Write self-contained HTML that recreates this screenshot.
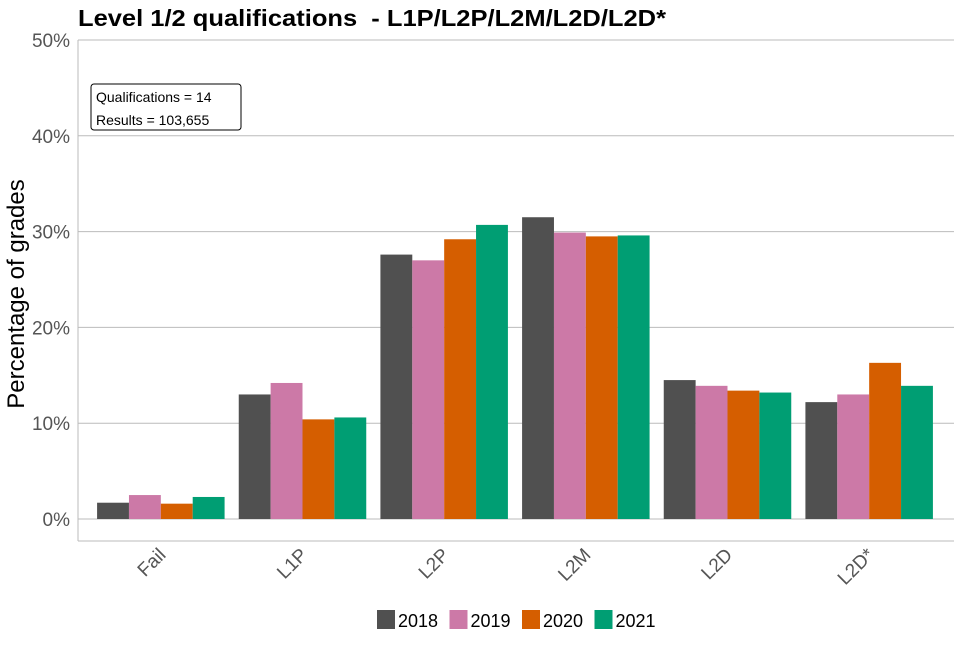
<!DOCTYPE html>
<html><head><meta charset="utf-8"><style>
body{margin:0;background:#fff;font-family:"Liberation Sans",sans-serif}
</style></head><body>
<svg id="c" width="960" height="640" xmlns="http://www.w3.org/2000/svg" font-family="Liberation Sans, sans-serif">
<text x="78" y="26" font-size="23" font-weight="bold" textLength="588" lengthAdjust="spacingAndGlyphs">Level 1/2 qualifications &#160;- L1P/L2P/L2M/L2D/L2D*</text>
<text transform="translate(24,294) rotate(-90)" text-anchor="middle" font-size="24">Percentage of grades</text>
<g id="grid"></g><g id="bars"></g><g id="xl"></g>
<line x1="78" y1="40" x2="78" y2="541" stroke="#bbb"/>
<line x1="78" y1="541" x2="954" y2="541" stroke="#bbb"/>
<g>
<rect x="91" y="84" width="150" height="46" rx="3" fill="#fff" stroke="#000"/>
<text x="96" y="102" font-size="14">Qualifications = 14</text>
<text x="96" y="125" font-size="14">Results = 103,655</text>
</g>
<g id="legend"></g>
</svg>
<script>
const categories=["Fail","L1P","L2P","L2M","L2D","L2D*"];
const years=["2018","2019","2020","2021"];
const s2018=[1.7,13.0,27.6,31.5,14.5,12.2];
const s2019=[2.5,14.2,27.0,29.9,13.9,13.0];
const s2020=[1.6,10.4,29.2,29.5,13.4,16.3];
const s2021=[2.3,10.6,30.7,29.6,13.2,13.9];
const yTicks=[0,10,20,30,40,50];
const colors=["#505050","#cc79a7","#d55e00","#009e73"];
const series=[s2018,s2019,s2020,s2021];
const NS="http://www.w3.org/2000/svg";
const gx0=78,gx1=954,x0=90,x1=940,y0=519,yTop=40;
const y=v=>y0-(v/50)*(y0-yTop);
const band=(x1-x0)/categories.length;
const xc=i=>x0+band*(i+0.5);
const bw=band*0.9/4;
function mk(t,a,p){const e=document.createElementNS(NS,t);for(const k in a)e.setAttribute(k,a[k]);p.appendChild(e);return e;}
const g=document.getElementById('grid');
yTicks.forEach(t=>{
const l=mk('line',{x1:gx0,x2:gx1,y1:y(t),y2:y(t),stroke:'#bbb'},g);


const tx=mk('text',{x:70,y:y(t)+7,'text-anchor':'end','font-size':19,fill:'#555'},g);tx.textContent=t+'%';


});
const b=document.getElementById('bars');
series.forEach((s,j)=>s.forEach((v,i)=>{
const r=mk('rect',{x:xc(i)-2*bw+j*bw,y:y(v),width:bw,height:y0-y(v),fill:colors[j]},b);


}));
const xl=document.getElementById('xl');
categories.forEach((c,i)=>{
const t=mk('text',{transform:`translate(${xc(i)+6},${556}) rotate(-45)`,'text-anchor':'end','font-size':19,fill:'#555'},xl);t.textContent=c;


});
const lg=document.getElementById('legend');
let lx=377;
years.forEach((yr,j)=>{
const r=mk('rect',{x:lx,y:610,width:18,height:19,fill:colors[j]},lg);


const t=mk('text',{x:lx+21,y:627,'font-size':18},lg);t.textContent=yr;


lx+=72.5;
});
</script>
</body></html>
